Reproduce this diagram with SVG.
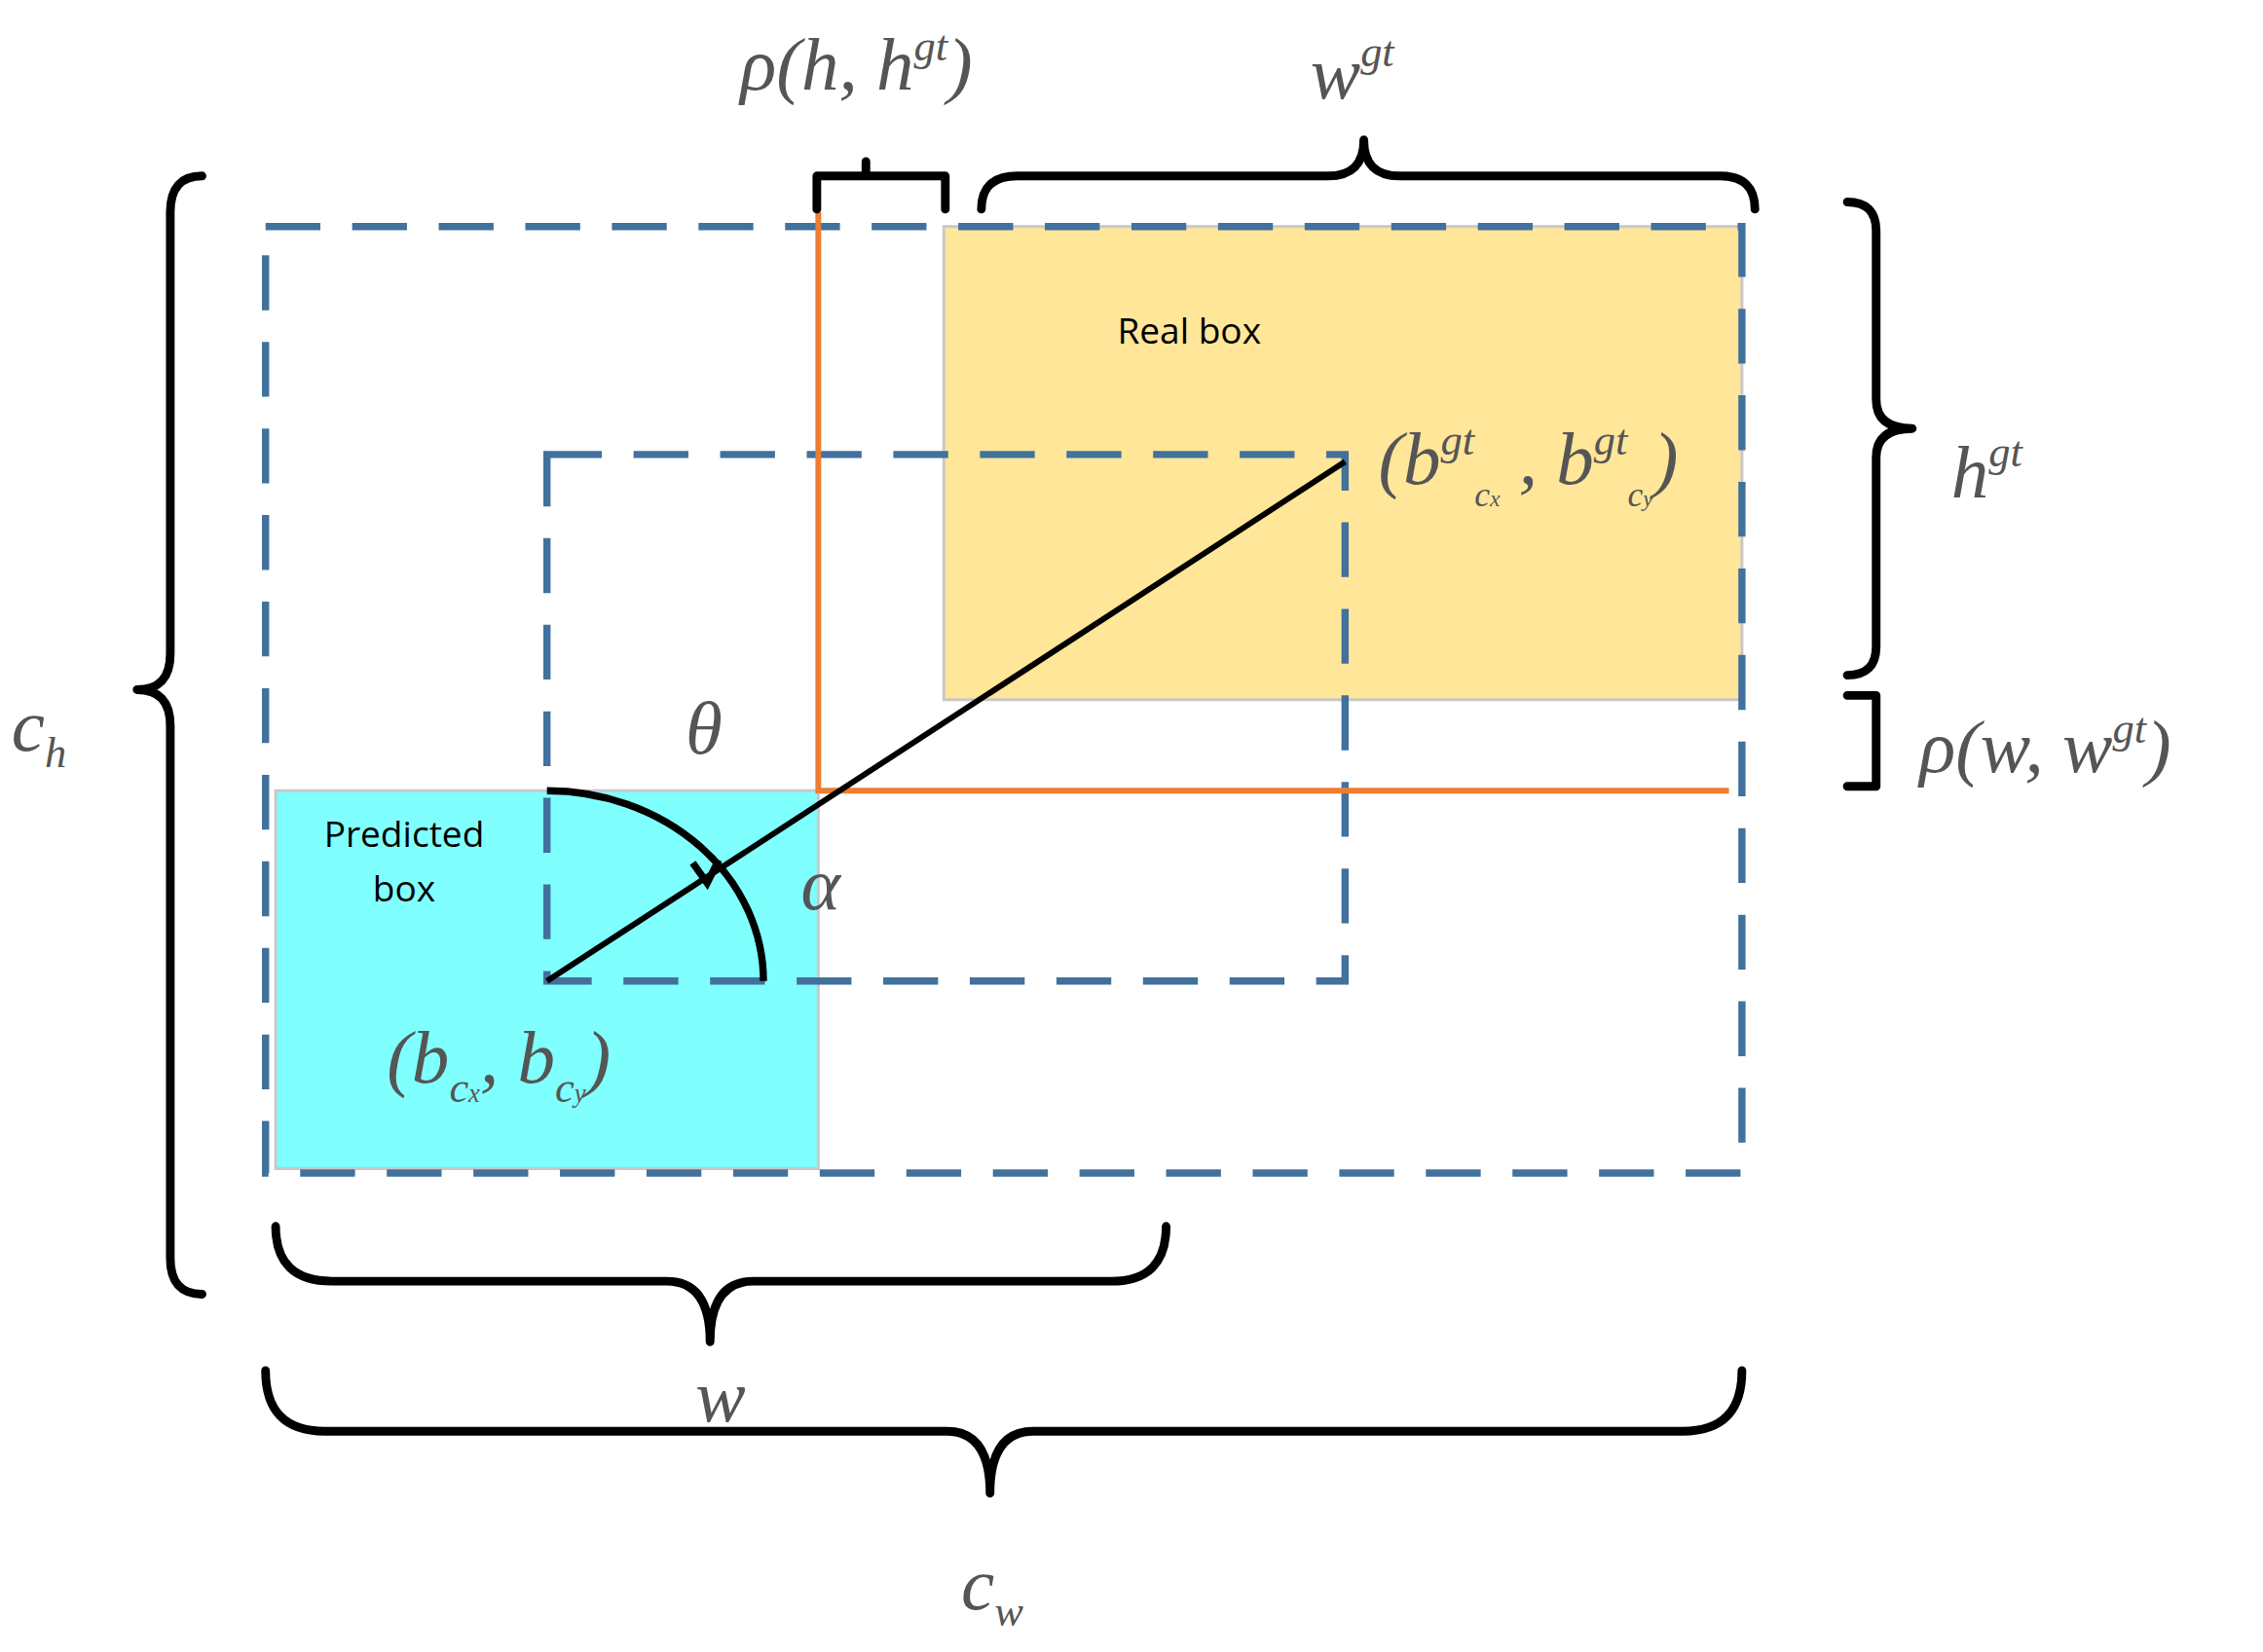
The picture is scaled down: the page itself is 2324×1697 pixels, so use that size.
<svg xmlns="http://www.w3.org/2000/svg" width="2324" height="1697" viewBox="0 0 2324 1697">
<style>
.dash{fill:none;stroke:#41719C;stroke-width:5;stroke-dasharray:38 22}
.br{fill:none;stroke:#000;stroke-width:6;stroke-linejoin:round;stroke-linecap:round}
.m{font-family:"Liberation Serif",serif;font-style:italic;fill:#555;font-size:52px}
.s{font-size:30px}
.lab{font-family:"Open Sans","Liberation Sans",sans-serif;font-size:25px;fill:#000;text-anchor:middle}
</style>
<rect width="2324" height="1697" fill="#fff"/>
<g transform="scale(1.4821)">
<g id="real-box"><rect x="654" y="157" width="553" height="328" fill="#FFE699" stroke="#C8C8C8" stroke-width="2"/><text class="lab" x="824" y="238">Real box</text></g>
<g id="predicted-box"><rect x="191" y="548" width="376" height="262" fill="#80FFFF" stroke="#C8C8C8" stroke-width="2"/><text class="lab" x="280" y="587">Predicted</text><text class="lab" x="280" y="625">box</text></g>
<g id="outer-box"><rect class="dash" x="184" y="157" width="1023" height="656"/></g>
<g id="inner-box"><rect class="dash" x="379" y="315" width="553" height="365"/></g>
<g id="connectors">
<path d="M567,147 L567,548 L1198,548" fill="none" stroke="#ED7D31" stroke-width="4"/>
<line x1="379" y1="680" x2="932" y2="320" stroke="#000" stroke-width="4"/>
<path d="M379,548 A150,132 0 0 1 529,680" fill="none" stroke="#000" stroke-width="5"/>
<path d="M480,598 L490,612 L498,596" fill="none" stroke="#000" stroke-width="5"/>
<path class="br" d="M680,145 Q680,122 705,122 L920,122 Q945,122 945,97 Q945,122 970,122 L1192,122 Q1216,122 1216,145"/>
<path class="br" d="M140,122 Q118,122 118,147 L118,453 Q118,478 95,478 Q118,478 118,503 L118,872 Q118,897 140,897"/>
<path class="br" d="M1280,140 Q1300,140 1300,160 L1300,277 Q1300,297 1325,297 Q1300,297 1300,317 L1300,448 Q1300,468 1280,468"/>
<path class="br" d="M191,850 Q191,888 230,888 L462,888 Q492,888 492,930 Q492,888 522,888 L770,888 Q808,888 808,850"/>
<path class="br" d="M184,950 Q184,992 225,992 L656,992 Q686,992 686,1035 Q686,992 716,992 L1166,992 Q1207,992 1207,950"/>
<path class="br" d="M566,145 L566,122 L655,122 L655,145 M600,122 L600,112"/>
<path class="br" d="M1280,482 L1300,482 L1300,545 L1280,545"/>
</g>
<g id="labels">
<text class="m" x="513" y="62">ρ(h, h<tspan class="s" dy="-20">gt</tspan><tspan dy="20">)</tspan></text>
<text class="m" x="908" y="68">w<tspan class="s" dy="-22">gt</tspan></text>
<text class="m" x="1352" y="345">h<tspan class="s" dy="-22">gt</tspan></text>
<text class="m" x="1330" y="535">ρ(w, w<tspan class="s" dy="-20">gt</tspan><tspan dy="20">)</tspan></text>
<text class="m" x="8" y="520">c<tspan class="s" dy="12">h</tspan></text>
<text class="m" x="666" y="1115">c<tspan class="s" dy="12">w</tspan></text>
<text class="m" x="482" y="985">w</text>
<text class="m" x="475" y="522">θ</text>
<text class="m" x="555" y="630">α</text>
<text class="m" x="955" y="335">(b<tspan class="s" dy="-20">gt</tspan><tspan font-size="24" dy="36">c<tspan font-size="16">x</tspan></tspan><tspan dy="-16"> , b</tspan><tspan class="s" dy="-20">gt</tspan><tspan font-size="24" dy="36">c<tspan font-size="16">y</tspan></tspan><tspan dy="-16">)</tspan></text>
<text class="m" x="268" y="750">(b<tspan class="s" dy="14">c<tspan font-size="18">x</tspan></tspan><tspan dy="-14">, b</tspan><tspan class="s" dy="14">c<tspan font-size="18">y</tspan></tspan><tspan dy="-14">)</tspan></text>
</g>
</g>
</svg>
